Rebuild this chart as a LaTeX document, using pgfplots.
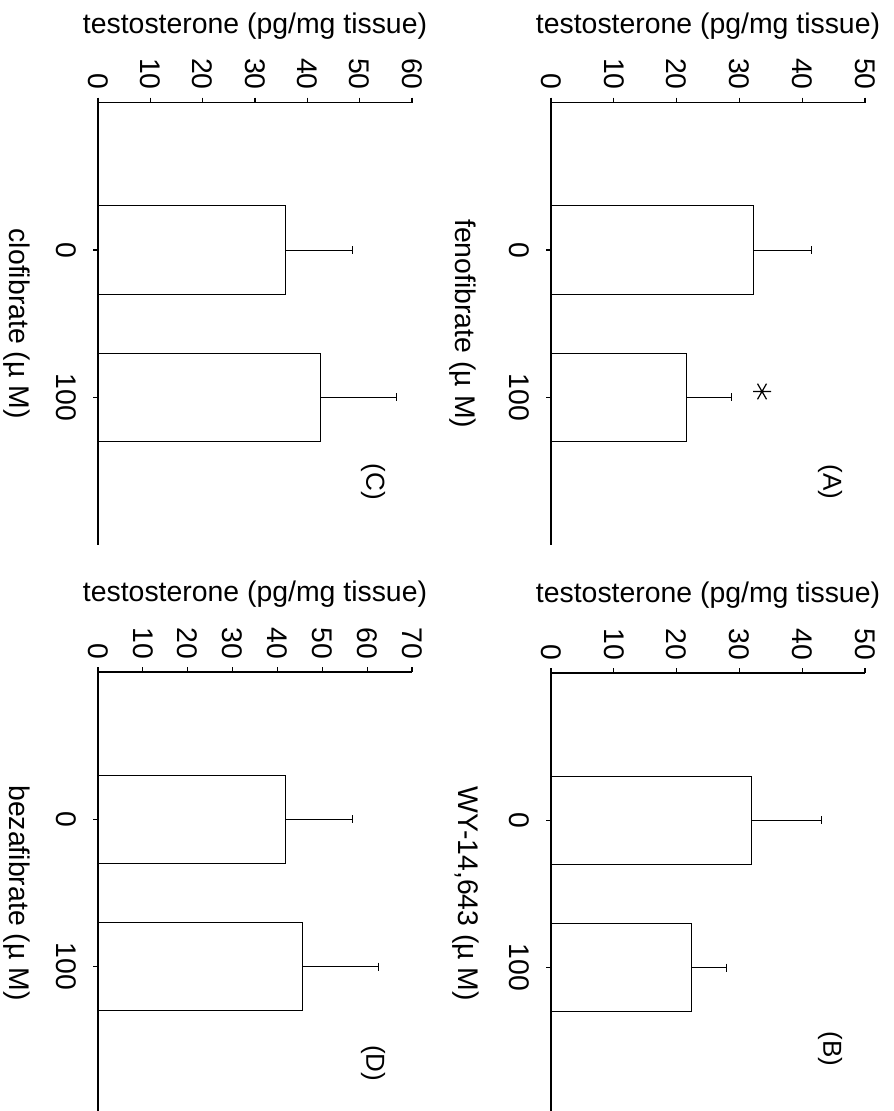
\documentclass[border=0pt]{standalone}
\usepackage{fontspec}
\setmainfont{Liberation Sans}
\usepackage{pgfplots}
\pgfplotsset{compat=1.18}
\begin{document}
\begin{tikzpicture}
\pgfplotsset{
  panel/.style={
    scale only axis, width=157pt, height=221pt,
    ymin=0, ymax=3, ytick={1,2}, yticklabels={100,0},
    xmin=0,
    axis x line*=top, axis y line*=left,
    tick align=outside, major tick length=2.5pt,
    axis line style={line width=0.55pt},
    every tick/.style={black, line width=0.55pt},
    font=\fontsize{14.2}{16}\selectfont,
    /pgf/number format/assume math mode=true,
    xticklabel style={rotate=-90, anchor=east, inner sep=0pt},
    yticklabel style={rotate=-90, anchor=north, inner sep=0pt},
    xticklabel shift=3.8pt,
    yticklabel shift=8pt,
    clip=false,
  },
  bars/.style={xbar, bar width=0.6, fill=white, draw=black, line width=0.55pt,
    error bars/.cd, x dir=plus, x explicit,
    error bar style={line width=0.5pt, black},
    error mark options={black, mark size=2pt, line width=0.5pt, rotate=90}},
}
\path[use as bounding box] (0pt,0pt) rectangle (446.5pt,-555.5pt);

% Panel C (top left)
\begin{axis}[panel, name=C, at={(49pt,-51.35pt)}, anchor=north west,
  xmax=60, xtick={0,10,...,60}]
\addplot[bars] coordinates {(35.9,2) +- (12.7,0) (42.5,1) +- (14.6,0)};
\node[rotate=-90, font=\fontsize{13}{15}\selectfont] at (rel axis cs:0.876,0.142) {(C)};
\end{axis}
\node[font=\fontsize{14.2}{16}\selectfont] at ([yshift=38.4pt]C.north) {testosterone (pg/mg tissue)};
\node[rotate=-90, font=\fontsize{14.2}{16}\selectfont] at ([xshift=-40.5pt]C.west) {clofibrate (µ M)};

% Panel A (top right)
\begin{axis}[panel, name=A, at={(275.5pt,-51.35pt)}, anchor=north west,
  xmax=50, xtick={0,10,...,50}]
\addplot[bars] coordinates {(32.2,2) +- (9.3,0) (21.6,1) +- (7.2,0)};
\addplot[only marks, mark=asterisk, mark size=4.5pt, mark options={black, line width=0.6pt, rotate=90}] coordinates {(33.6,1.04)};
\node[rotate=-90, font=\fontsize{13}{15}\selectfont] at (rel axis cs:0.889,0.142) {(A)};
\end{axis}
\node[font=\fontsize{14.2}{16}\selectfont] at ([yshift=38.4pt]A.north) {testosterone (pg/mg tissue)};
\node[rotate=-90, font=\fontsize{14.2}{16}\selectfont] at ([xshift=-44pt]A.west) {fenofibrate (µ M)};

% Panel D (bottom left)
\begin{axis}[panel, name=D, at={(49pt,-336pt)}, anchor=north west,
  xmax=70, xtick={0,10,...,70}]
\addplot[bars] coordinates {(41.8,2) +- (14.9,0) (45.6,1) +- (17.0,0)};
\node[rotate=-90, font=\fontsize{13}{15}\selectfont] at (rel axis cs:0.876,0.115) {(D)};
\end{axis}
\node[font=\fontsize{14.2}{16}\selectfont] at ([yshift=39pt]D.north) {testosterone (pg/mg tissue)};
\node[rotate=-90, font=\fontsize{14.2}{16}\selectfont] at ([xshift=-40.5pt]D.west) {bezafibrate (µ M)};

% Panel B (bottom right)
\begin{axis}[panel, name=B, at={(275.5pt,-336.5pt)}, anchor=north west,
  xmax=50, xtick={0,10,...,50}]
\addplot[bars] coordinates {(31.9,2) +- (11.1,0) (22.4,1) +- (5.6,0)};
\node[rotate=-90, font=\fontsize{13}{15}\selectfont] at (rel axis cs:0.889,0.15) {(B)};
\end{axis}
\node[font=\fontsize{14.2}{16}\selectfont] at ([yshift=39pt]B.north) {testosterone (pg/mg tissue)};
\node[rotate=-90, font=\fontsize{14.2}{16}\selectfont] at ([xshift=-42.5pt]B.west) {WY-14,643 (µ M)};
\end{tikzpicture}
\end{document}
